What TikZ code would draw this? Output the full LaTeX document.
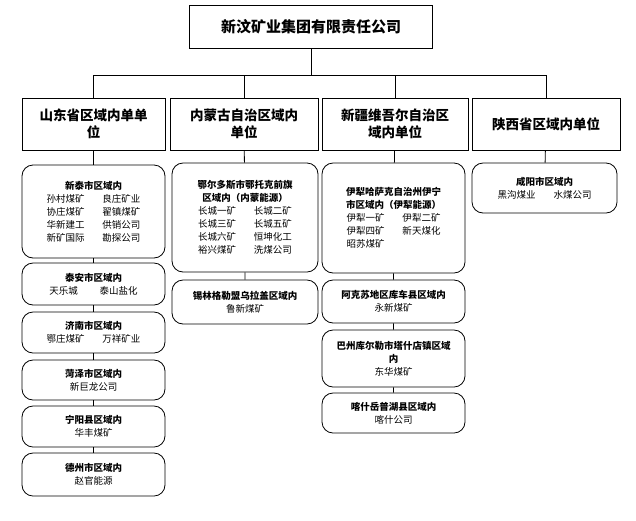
\documentclass[tikz,border=0pt]{standalone}
\usepackage{fontspec}
\newfontfamily\cjk{Noto Sans CJK SC}
\begin{document}
\begin{tikzpicture}[x=1pt,y=-1pt,
	unit/.style={draw,thick,rounded corners=11pt,fill=white,inner sep=2pt,font=\cjk\fontsize{9.5}{13}\selectfont,align=center},
	head/.style={draw,thick,fill=white,inner sep=2pt,font=\cjk\bfseries\fontsize{13.5}{17}\selectfont,align=center},
	link/.style={thick}]
	\useasboundingbox (0,0) rectangle (636,520);
	% top
	\node[head,minimum width=243,minimum height=43,font=\cjk\bfseries\fontsize{15}{17}\selectfont] (top) at (311,26.5) {新汶矿业集团有限责任公司};
	\coordinate (bus) at (311,75);
	% provinces
	\node[head,minimum width=143,minimum height=52] (sd) at (93.5,124) {山东省区域内单单\\位};
	\node[head,minimum width=148,minimum height=52] (nm) at (244,124) {内蒙古自治区域内\\单位};
	\node[head,minimum width=146,minimum height=52] (xj) at (395,124) {新疆维吾尔自治区\\域内单位};
	\node[head,minimum width=148,minimum height=52] (sx) at (546,124) {陕西省区域内单位};
	\draw[link] (top) -- (bus);
	\draw[link] (sd.north |- bus) -- (sx.north |- bus);
	\foreach \p in {sd,nm,xj,sx} {
		\draw[link] (\p.north |- bus) -- (\p.north);
	}
	% shandong
	\node[unit,minimum width=143,minimum height=93] (xt) at (93.5,211.5) {\textbf{新泰市区域内}\\
		孙村煤矿\hspace{18pt}良庄矿业\\协庄煤矿\hspace{18pt}翟镇煤矿\\华新建工\hspace{18pt}供销公司\\新矿国际\hspace{18pt}勘探公司};
	\node[unit,minimum width=143,minimum height=42] (ta) at (93.5,284) {\textbf{泰安市区域内}\\天乐城\hspace{22pt}泰山盐化};
	\node[unit,minimum width=143,minimum height=41] (jn) at (93.5,332.5) {\textbf{济南市区域内}\\鄂庄煤矿\hspace{18pt}万祥矿业};
	\node[unit,minimum width=143,minimum height=40] (hz) at (93.5,380) {\textbf{菏泽市区域内}\\新巨龙公司};
	\node[unit,minimum width=143,minimum height=41] (ny) at (93.5,426.5) {\textbf{宁阳县区域内}\\华丰煤矿};
	\node[unit,minimum width=143,minimum height=43] (dz) at (93.5,474.5) {\textbf{德州市区域内}\\赵官能源};
	\draw[link] (sd) -- (xt) -- (ta) -- (jn) -- (hz) -- (ny) -- (dz);
	% neimenggu
	\node[unit,minimum width=146,minimum height=109] (ed) at (245,217.5) {\textbf{鄂尔多斯市鄂托克前旗}\\\textbf{区域内（内蒙能源）}\\
		长城一矿\hspace{18pt}长城二矿\\长城三矿\hspace{18pt}长城五矿\\长城六矿\hspace{18pt}恒坤化工\\裕兴煤矿\hspace{18pt}洗煤公司};
	\node[unit,minimum width=146,minimum height=44] (xl) at (245,302) {\textbf{锡林格勒盟乌拉盖区域内}\\鲁新煤矿};
	\draw[link] (nm) -- (ed) -- (xl);
	% xinjiang
	\node[unit,minimum width=143,minimum height=110] (yl) at (393.5,218) {\textbf{伊犁哈萨克自治州伊宁}\\\textbf{市区域内（伊犁能源）}\\
		伊犁一矿\hspace{18pt}伊犁二矿\\伊犁四矿\hspace{18pt}新天煤化\\昭苏煤矿\hspace{18pt}\phantom{新天煤化}};
	\node[unit,minimum width=143,minimum height=43] (aks) at (393.5,301.5) {\textbf{阿克苏地区库车县区域内}\\永新煤矿};
	\node[unit,minimum width=143,minimum height=57] (bz) at (393.5,358.5) {\textbf{巴州库尔勒市塔什店镇区域}\\\textbf{内}\\东华煤矿};
	\node[unit,minimum width=143,minimum height=40] (ks) at (393.5,413) {\textbf{喀什岳普湖县区域内}\\喀什公司};
	\draw[link] (xj) -- (yl) -- (aks) -- (bz) -- (ks);
	% shaanxi
	\node[unit,minimum width=145,minimum height=50] (xy) at (544.5,188) {\textbf{咸阳市区域内}\\黑沟煤业\hspace{18pt}水煤公司};
	\draw[link] (sx) -- (xy);
\end{tikzpicture}
\end{document}
